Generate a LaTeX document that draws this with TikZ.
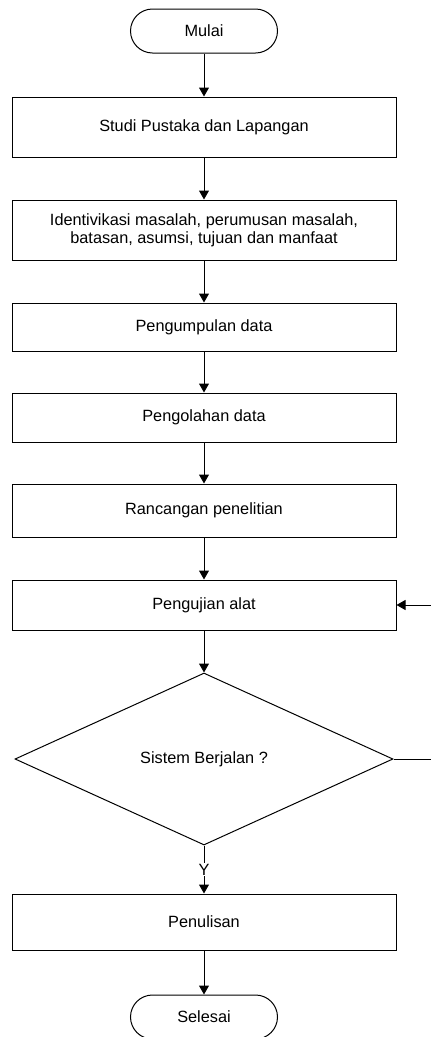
\documentclass[tikz,border=0pt]{standalone}
\usepackage{fontspec}
\setmainfont{Liberation Sans}
\usetikzlibrary{shapes.geometric,arrows.meta}
\tikzset{
  proses/.style={draw, line width=1pt, minimum width=384pt, inner sep=0pt, align=center},
  ujung/.style={draw, line width=1pt, rounded corners=22pt, minimum width=147pt, minimum height=44pt},
  keputusan/.style={draw, diamond, line width=1pt, minimum width=378pt, minimum height=172pt, inner sep=0pt},
  panah/.style={-{Triangle[width=10pt,length=9pt]}, line width=1pt}
}
\begin{document}
\begin{tikzpicture}[x=1pt,y=-1pt,font=\fontsize{16.3}{18}\selectfont]
\useasboundingbox (0,0) rectangle (431,1037);
\clip (0,0) rectangle (431,1037);
\node[ujung] (mulai) at (204,31) {Mulai};
\node[proses, minimum height=60pt] (studi) at (204,127) {Studi Pustaka dan Lapangan};
\node[proses, minimum height=60pt] (identifikasi) at (204,230) {Identivikasi masalah, perumusan masalah,\\batasan, asumsi, tujuan dan manfaat};
\node[proses, minimum height=48pt] (kumpul) at (204,327) {Pengumpulan data};
\node[proses, minimum height=49pt] (olah) at (204,417.5) {Pengolahan data};
\node[proses, minimum height=53pt] (rancang) at (204,510.5) {Rancangan penelitian};
\node[proses, minimum height=50pt] (uji) at (204,605) {Pengujian alat};
\node[keputusan] (cek) at (204,759) {Sistem Berjalan ?};
\node[proses, minimum height=56pt] (tulis) at (204,922) {Penulisan};
\node[ujung] (selesai) at (204,1017) {Selesai};
\draw[panah] (mulai) -- (studi);
\draw[panah] (studi) -- (identifikasi);
\draw[panah] (identifikasi) -- (kumpul);
\draw[panah] (kumpul) -- (olah);
\draw[panah] (olah) -- (rancang);
\draw[panah] (rancang) -- (uji);
\draw[panah] (uji) -- (cek);
\draw[panah] (cek) -- node[fill=white, inner sep=1pt]{Y} (tulis);
\draw[panah] (tulis) -- (selesai);
\draw[panah] (cek.east) -- ++(45,0) |- (uji.east);
\end{tikzpicture}
\end{document}
